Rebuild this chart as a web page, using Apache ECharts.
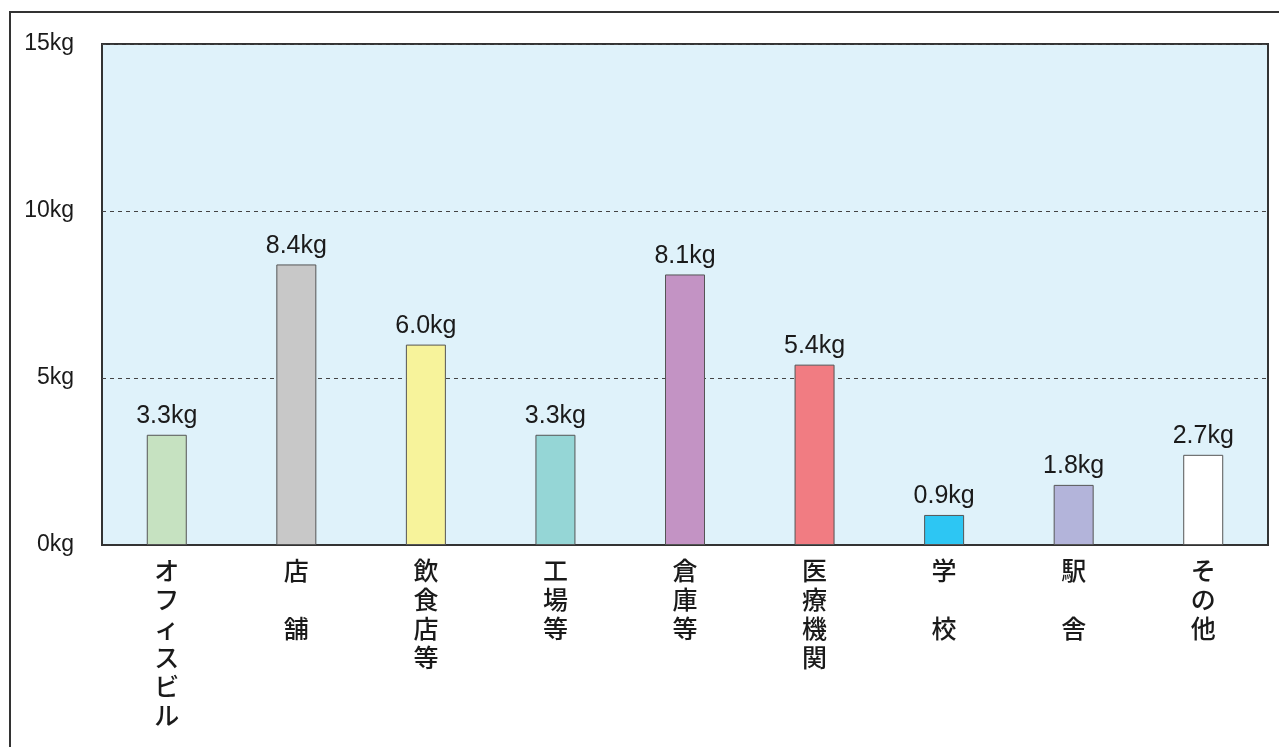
<!DOCTYPE html>
<html>
  <head>
    <meta charset="utf-8">
    <script src="https://cdn.jsdelivr.net/npm/echarts@6/dist/echarts.min.js"></script>
    <style>
      html, body { margin: 0; padding: 0; background: #fff; }
    </style>
  </head>
  <body>
    <div class="chart" style="width:1279px;height:747px;"></div>
    <script>
      // building types (full-width space keeps the two-char names spread out)
      var categories = ['オフィスビル', '店　舗', '飲食店等', '工場等', '倉庫等', '医療機関', '学　校', '駅　舎', 'その他'];
      var values = [3.3, 8.4, 6.0, 3.3, 8.1, 5.4, 0.9, 1.8, 2.7];
      var barColors = ['#c6e2c1', '#c8c8c8', '#f7f39b', '#95d6d6', '#c393c4', '#f17c82', '#2dc6f3', '#b3b4da', '#ffffff'];
      var yTicks = [0, 5, 10, 15];

      var chart = echarts.init(document.getElementsByClassName('chart')[0], null, { renderer: 'canvas' });

      var numFont = '"Liberation Sans", Arial, sans-serif';
      var jpFont = '"Noto Sans CJK JP", sans-serif';

      chart.setOption({
        animation: false,
        backgroundColor: '#fff',
        graphic: [{
          type: 'rect',
          shape: { x: 10, y: 12, width: 1400, height: 900 },
          style: { fill: 'none', stroke: '#333', lineWidth: 2 },
          silent: true
        }],
        grid: {
          left: 102, top: 44, right: 11, bottom: 202,
          show: true,
          backgroundColor: '#dff2fa',
          borderColor: '#333',
          borderWidth: 2
        },
        xAxis: {
          type: 'category',
          data: categories,
          axisLine: { lineStyle: { color: '#333', width: 2 } },
          axisTick: { show: false },
          axisLabel: {
            interval: 0,
            margin: 11,
            fontFamily: jpFont,
            fontSize: 25,
            fontWeight: 500,
            lineHeight: 29,
            color: '#1a1a1a',
            verticalAlign: 'top',
            formatter: function (v) { return v.split('').join('\n'); }
          }
        },
        yAxis: {
          type: 'value',
          min: yTicks[0],
          max: yTicks[yTicks.length - 1],
          interval: 5,
          axisLine: { show: false },
          axisTick: { show: false },
          axisLabel: {
            margin: 28,
            fontFamily: numFont,
            fontSize: 23,
            color: '#1a1a1a',
            formatter: '{value}kg'
          },
          splitLine: { lineStyle: { color: '#444', type: [4, 4], width: 1 } }
        },
        series: [{
          type: 'bar',
          barWidth: 40,
          data: values.map(function (v, i) {
            return { value: v, itemStyle: { color: barColors[i] } };
          }),
          itemStyle: { borderColor: '#555', borderWidth: 1 },
          label: {
            show: true,
            position: 'top',
            distance: 6,
            fontFamily: numFont,
            fontSize: 25,
            color: '#1a1a1a',
            formatter: function (p) { return p.value.toFixed(1) + 'kg'; }
          }
        }]
      });
    </script>
  </body>
</html>
